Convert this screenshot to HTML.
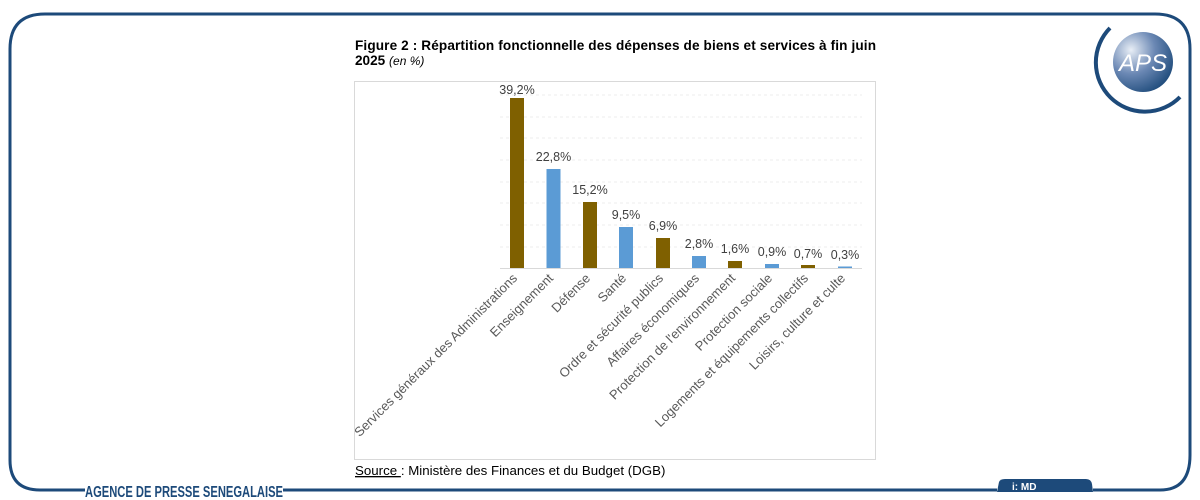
<!DOCTYPE html>
<html><head><meta charset="utf-8"><style>
body{margin:0;width:1200px;height:500px;background:#fff;overflow:hidden;font-family:"Liberation Sans",sans-serif;}
</style></head><body>
<svg width="1200" height="500" xmlns="http://www.w3.org/2000/svg" style="position:absolute;left:0;top:0">
<path d="M45 14 H1155 Q1190 14 1190 49 V455 Q1190 490 1160 490 H1093 M997 490 H283 M85 490 H40 Q10 490 10 460 V49 Q10 14 45 14" fill="none" stroke="#1d4a7a" stroke-width="3"/>
<path d="M997 492 L999 482 Q1000 479 1005 479 H1086 Q1091 479 1092 484 L1093 492 Z" fill="#1d4a7a"/>
<text x="1012" y="490" font-size="10" font-weight="bold" fill="#fff">i:  MD</text>
<text x="85" y="497" font-size="16" font-weight="bold" fill="#1d4a7a" textLength="198" lengthAdjust="spacingAndGlyphs">AGENCE DE PRESSE SENEGALAISE</text>
<path d="M1110 28 A47 47 0 1 0 1180 97" fill="none" stroke="#1d4a7a" stroke-width="4"/>
<defs><radialGradient id="g" cx="0.3" cy="0.3" r="0.8"><stop offset="0" stop-color="#e8eef6"/><stop offset="0.5" stop-color="#6b88b4"/><stop offset="1" stop-color="#1d4a7a"/></radialGradient></defs>
<circle cx="1143" cy="62" r="30" fill="url(#g)"/>
<text x="1143" y="71" font-size="24" fill="#fff" text-anchor="middle" font-style="italic">APS</text>
<text x="355" y="50" font-size="13.6" font-weight="bold" fill="#000" textLength="521" lengthAdjust="spacing">Figure 2 : Répartition fonctionnelle des dépenses de biens et services à fin juin</text>
<text x="355" y="65" font-size="13.6" font-weight="bold" fill="#000">2025 <tspan font-weight="normal" font-style="italic" font-size="12">(en %)</tspan></text>
<rect x="354.5" y="81.5" width="521" height="378" fill="#fff" stroke="#d9d9d9"/>
<g stroke="#eeeeee" stroke-dasharray="3,3">
<line x1="500" x2="862" y1="95" y2="95"/><line x1="500" x2="862" y1="117" y2="117"/><line x1="500" x2="862" y1="138" y2="138"/><line x1="500" x2="862" y1="160" y2="160"/><line x1="500" x2="862" y1="182" y2="182"/><line x1="500" x2="862" y1="203" y2="203"/><line x1="500" x2="862" y1="225" y2="225"/><line x1="500" x2="862" y1="247" y2="247"/>
</g>
<line x1="500" x2="862" y1="268.5" y2="268.5" stroke="#d9d9d9"/>
<g font-size="12.5" fill="#404040" text-anchor="middle">
<rect x="510" y="98" width="14" height="170" fill="#7f6000"/><text x="517" y="94">39,2%</text>
<rect x="546.5" y="169" width="14" height="99" fill="#5b9bd5"/><text x="553.5" y="161">22,8%</text>
<rect x="583" y="202" width="14" height="66" fill="#7f6000"/><text x="590" y="194">15,2%</text>
<rect x="619" y="227" width="14" height="41" fill="#5b9bd5"/><text x="626" y="219">9,5%</text>
<rect x="656" y="238" width="14" height="30" fill="#7f6000"/><text x="663" y="230">6,9%</text>
<rect x="692" y="256" width="14" height="12" fill="#5b9bd5"/><text x="699" y="248">2,8%</text>
<rect x="728" y="261" width="14" height="7" fill="#7f6000"/><text x="735" y="253">1,6%</text>
<rect x="765" y="264" width="14" height="4" fill="#5b9bd5"/><text x="772" y="256">0,9%</text>
<rect x="801" y="265" width="14" height="3" fill="#7f6000"/><text x="808" y="258">0,7%</text>
<rect x="838" y="266.5" width="14" height="1.5" fill="#5b9bd5"/><text x="845" y="259">0,3%</text>
</g>
<g font-size="13" fill="#595959" text-anchor="end">
<text transform="translate(518,279) rotate(-45)">Services généraux des Administrations</text>
<text transform="translate(554,279) rotate(-45)">Enseignement</text>
<text transform="translate(591,279) rotate(-45)">Défense</text>
<text transform="translate(627,279) rotate(-45)">Santé</text>
<text transform="translate(664,279) rotate(-45)">Ordre et sécurité publics</text>
<text transform="translate(700,279) rotate(-45)">Affaires économiques</text>
<text transform="translate(736,279) rotate(-45)">Protection de l'environnement</text>
<text transform="translate(773,279) rotate(-45)">Protection sociale</text>
<text transform="translate(809,279) rotate(-45)">Logements et équipements collectifs</text>
<text transform="translate(846,279) rotate(-45)">Loisirs, culture et culte</text>
</g>
<text x="355" y="475" font-size="13.3" fill="#000"><tspan text-decoration="underline">Source </tspan>: Ministère des Finances et du Budget (DGB)</text>
</svg>
</body></html>
